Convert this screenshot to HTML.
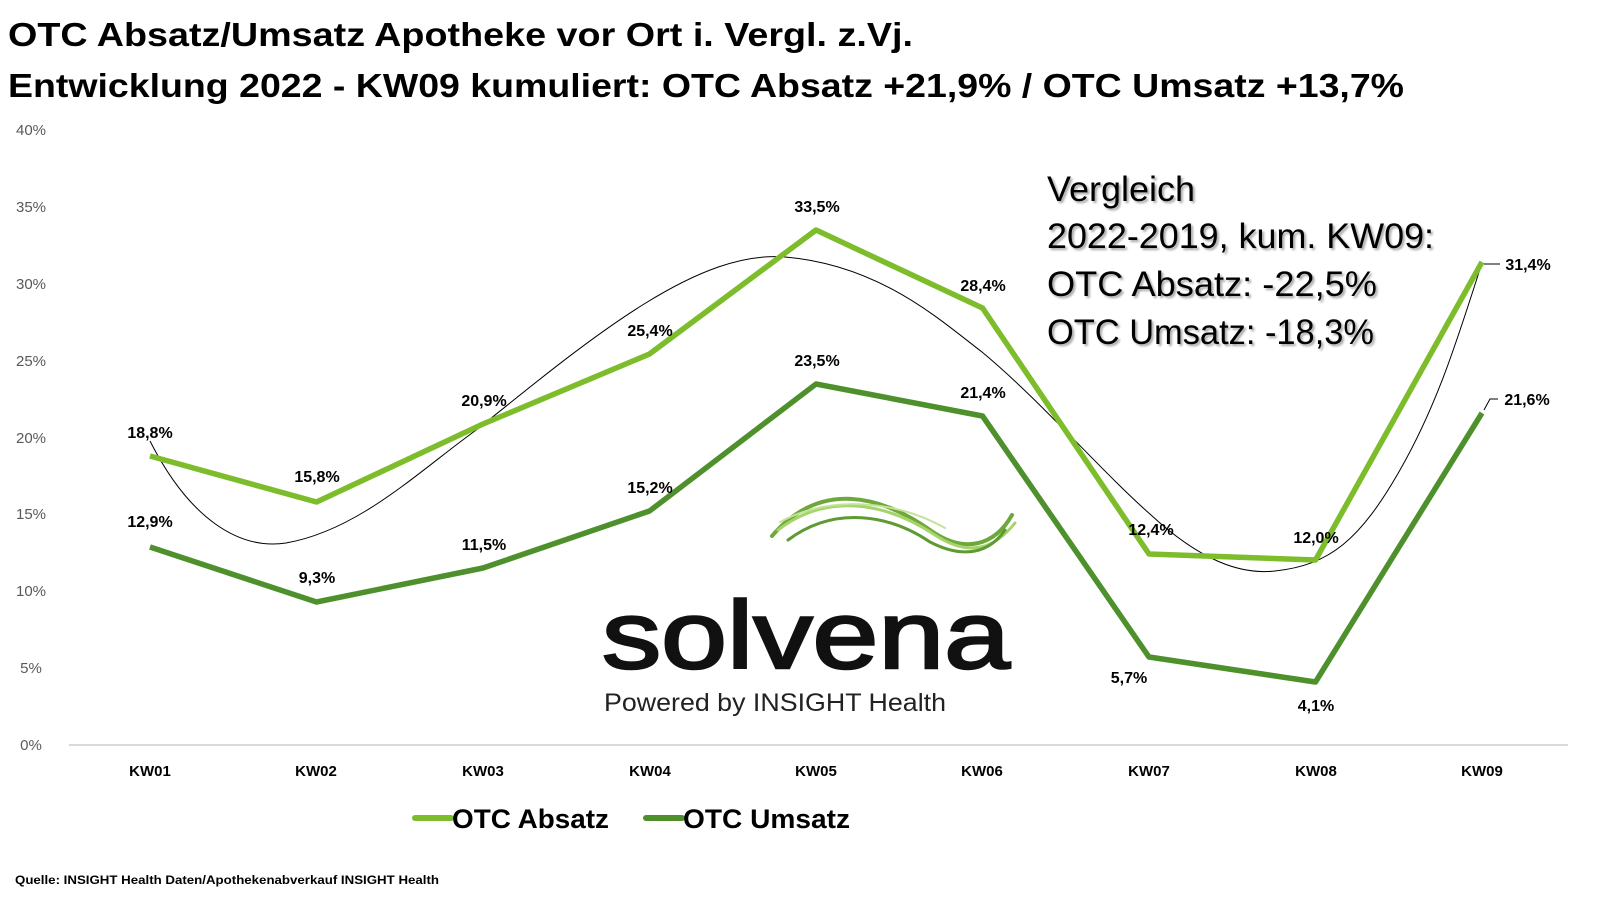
<!DOCTYPE html>
<html><head><meta charset="utf-8"><style>
html,body{margin:0;padding:0;background:#fff;}
svg{display:block;}
text{font-family:"Liberation Sans",sans-serif;}
</style></head><body>
<svg width="1600" height="900" viewBox="0 0 1600 900" xmlns="http://www.w3.org/2000/svg">
<rect width="1600" height="900" fill="#fff"/>
<text x="8" y="46" font-size="33" font-weight="bold" textLength="905" lengthAdjust="spacingAndGlyphs">OTC Absatz/Umsatz Apotheke vor Ort i. Vergl. z.Vj.</text>
<text x="8" y="97" font-size="33" font-weight="bold" textLength="1396" lengthAdjust="spacingAndGlyphs">Entwicklung 2022 - KW09 kumuliert: OTC Absatz +21,9% / OTC Umsatz +13,7%</text>
<g font-size="15" fill="#595959" text-anchor="middle">
<text x="31" y="750">0%</text><text x="31" y="673">5%</text><text x="31" y="596">10%</text><text x="31" y="519">15%</text><text x="31" y="443">20%</text><text x="31" y="366">25%</text><text x="31" y="289">30%</text><text x="31" y="212">35%</text><text x="31" y="135">40%</text>
</g>
<line x1="69" y1="745" x2="1568" y2="745" stroke="#d9d9d9" stroke-width="2"/>
<g font-size="15" font-weight="bold" text-anchor="middle" fill="#000">
<text x="150" y="776">KW01</text><text x="316" y="776">KW02</text><text x="483" y="776">KW03</text><text x="650" y="776">KW04</text><text x="816" y="776">KW05</text><text x="982" y="776">KW06</text><text x="1149" y="776">KW07</text><text x="1316" y="776">KW08</text><text x="1482" y="776">KW09</text>
</g>
<g fill="none" stroke-linecap="round">
<path d="M772,536 C820,480 880,495 930,530 C965,555 995,545 1012,515" stroke="#6fa83a" stroke-width="4"/>
<path d="M778,530 C830,490 890,505 935,535 C970,558 995,548 1015,523" stroke="#a6d46a" stroke-width="3"/>
<path d="M788,540 C835,505 890,515 930,542 C965,560 990,552 1005,530" stroke="#5f9a32" stroke-width="3"/>
<path d="M780,522 C830,495 895,500 945,528" stroke="#c4e39a" stroke-width="2"/>
</g>
<text x="602" y="668" font-size="96" fill="#111" stroke="#111" stroke-width="2.5" textLength="408" lengthAdjust="spacingAndGlyphs">solvena</text>
<text x="604" y="711" font-size="25" fill="#222" textLength="342" lengthAdjust="spacingAndGlyphs">Powered by INSIGHT Health</text>
<path d="M150,441 C190,520 240,550 286,543 C360,530 420,470 479,428 C600,330 700,250 785,257 C880,265 940,320 982,352 C1040,400 1100,470 1151,515 C1200,560 1240,575 1275,571 C1330,565 1360,540 1400,470 C1440,400 1460,330 1482,263" fill="none" stroke="#000" stroke-width="1"/>
<polyline points="150,456 316.5,502 483,424 649.5,354 816,230 982.5,308 1149,554 1315.5,560 1482,262" fill="none" stroke="#7dbc2b" stroke-width="5.5" stroke-linejoin="round"/>
<polyline points="150,547 316.5,602 483,568 649.5,511 816,384 982.5,416 1149,657 1315.5,682 1482,413" fill="none" stroke="#4e902c" stroke-width="5.5" stroke-linejoin="round"/>
<line x1="1484" y1="264" x2="1500" y2="264" stroke="#000" stroke-width="1"/>
<polyline points="1484,410 1490,399 1498,399" fill="none" stroke="#000" stroke-width="1"/>
<g font-size="16" font-weight="bold" text-anchor="middle" fill="#000">
<text x="150" y="438">18,8%</text><text x="317" y="482">15,8%</text><text x="484" y="406">20,9%</text><text x="650" y="336">25,4%</text><text x="817" y="212">33,5%</text><text x="983" y="291">28,4%</text><text x="1151" y="535">12,4%</text><text x="1316" y="543">12,0%</text><text x="1528" y="270">31,4%</text>
<text x="150" y="527">12,9%</text><text x="317" y="583">9,3%</text><text x="484" y="550">11,5%</text><text x="650" y="493">15,2%</text><text x="817" y="366">23,5%</text><text x="983" y="398">21,4%</text><text x="1129" y="683">5,7%</text><text x="1316" y="711">4,1%</text><text x="1527" y="405">21,6%</text>
</g>
<g font-size="35" fill="#000" style="filter:drop-shadow(2px 2px 1px rgba(0,0,0,0.35))">
<text x="1047" y="201" textLength="148" lengthAdjust="spacingAndGlyphs">Vergleich</text>
<text x="1047" y="248" textLength="387" lengthAdjust="spacingAndGlyphs">2022-2019, kum. KW09:</text>
<text x="1047" y="296" textLength="330" lengthAdjust="spacingAndGlyphs">OTC Absatz:   -22,5%</text>
<text x="1047" y="344" textLength="327" lengthAdjust="spacingAndGlyphs">OTC Umsatz: -18,3%</text>
</g>
<line x1="415" y1="818" x2="451" y2="818" stroke="#7dbc2b" stroke-width="6" stroke-linecap="round"/>
<text x="452" y="828" font-size="27" font-weight="bold" textLength="157" lengthAdjust="spacingAndGlyphs">OTC Absatz</text>
<line x1="646" y1="818" x2="682" y2="818" stroke="#4e902c" stroke-width="6" stroke-linecap="round"/>
<text x="683" y="828" font-size="27" font-weight="bold" textLength="167" lengthAdjust="spacingAndGlyphs">OTC Umsatz</text>
<text x="15" y="884" font-size="12" font-weight="bold" textLength="424" lengthAdjust="spacingAndGlyphs">Quelle: INSIGHT Health Daten/Apothekenabverkauf INSIGHT Health</text>
</svg>
</body></html>
